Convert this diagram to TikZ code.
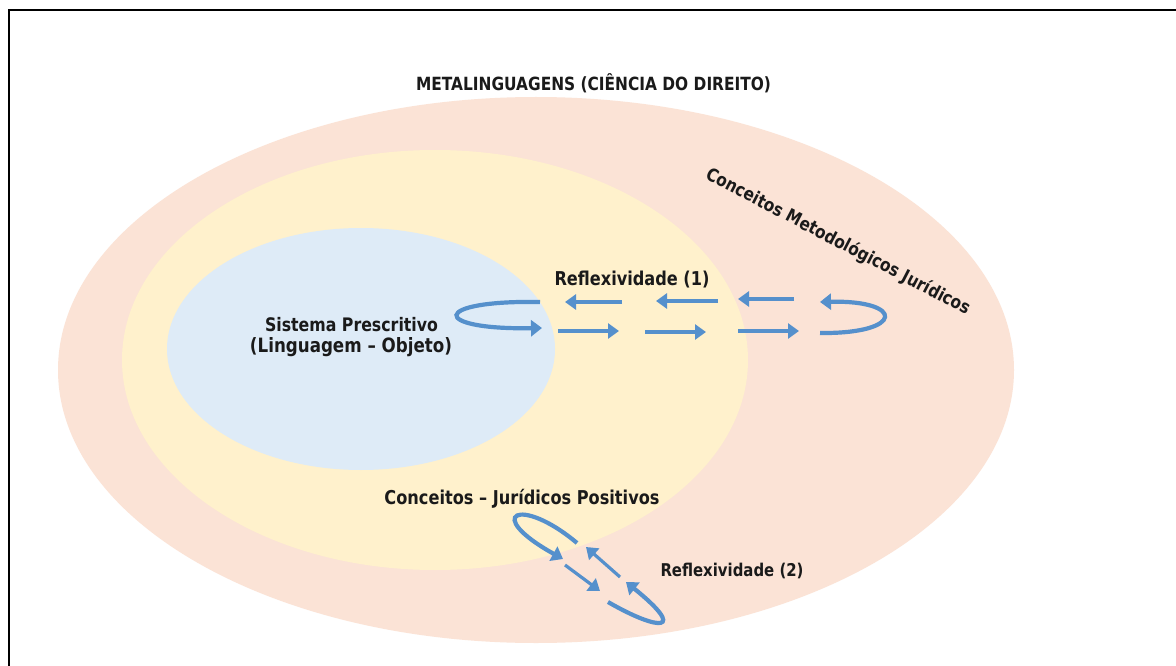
\documentclass[tikz,border=0pt]{standalone}
\usepackage{fontspec}
\setmainfont{DejaVu Sans}
\usetikzlibrary{arrows.meta}
\definecolor{outerc}{HTML}{FBE3D6}
\definecolor{midc}{HTML}{FFF1CC}
\definecolor{innerc}{HTML}{DEEBF7}
\definecolor{arrc}{HTML}{5590CC}
\definecolor{txtc}{HTML}{1A1A1A}
\newcommand{\fitw}[2]{\scalebox{1}[1.18]{\resizebox{#1pt}{!}{#2}}}
\begin{document}
\begin{tikzpicture}[x=1pt,y=-1pt,
  lbl/.style={text=txtc,font=\bfseries,inner sep=0pt},
  arr/.style={draw=arrc,line width=3.2pt,-{Triangle[width=15pt,length=11pt]}},
  looparr/.style={draw=arrc,line width=4.2pt,-{Triangle[width=16pt,length=11pt]}}]
\useasboundingbox (0,0) rectangle (1176,666);
\fill[white] (0,0) rectangle (1176,666);
\draw[line width=1.5pt] (1176,10) -- (9,10) -- (9,666);
% ellipses
\fill[outerc] (536,370) ellipse [x radius=478pt, y radius=273pt];
\fill[midc] (435,360) ellipse [x radius=313pt, y radius=210pt];
\fill[innerc] (361,349) ellipse [x radius=194pt, y radius=121pt];
% texts
\node[lbl] (title) at (593.5,83) {\fitw{355}{METALINGUAGENS (CIÊNCIA DO DIREITO)}};
\node[lbl] (sp1) at (351.5,325) {\fitw{173}{Sistema Prescritivo}};
\node[lbl] (sp2) at (351,347) {\fitw{202}{(Linguagem – Objeto)}};
\node[lbl] (rf1) at (632,280) {\fitw{155}{Reflexividade (1)}};
\node[lbl] (cjp) at (522,499) {\fitw{275}{Conceitos – Jurídicos Positivos}};
\node[lbl] (rf2) at (732,571) {\fitw{143}{Reflexividade (2)}};
\node[lbl,rotate=-27.5] (cmj) at (838,242) {\fitw{295}{Conceitos Metodológicos Jurídicos}};
% arrow end points
\coordinate (t1s) at (622,302); \coordinate (t1e) at (565,302);
\coordinate (t2s) at (718,301); \coordinate (t2e) at (656,301);
\coordinate (t3s) at (794,299); \coordinate (t3e) at (738,299);
\coordinate (b1s) at (558,331); \coordinate (b1e) at (619,331);
\coordinate (b2s) at (645,332); \coordinate (b2e) at (706,332);
\coordinate (b3s) at (738,331); \coordinate (b3e) at (799,331);
\coordinate (ls) at (540,302); \coordinate (le) at (542,328);
\coordinate (rs) at (820,333); \coordinate (re) at (820,302);
\coordinate (d1s) at (620,577); \coordinate (d1e) at (586,547);
\coordinate (d2s) at (565,565); \coordinate (d2e) at (600,591);
\coordinate (u1s) at (577,543); \coordinate (u1e) at (563,559);
\coordinate (u2s) at (608,602); \coordinate (u2e) at (626,582);
% straight arrows
\draw[arr] (t1s) -- (t1e);
\draw[arr] (t2s) -- (t2e);
\draw[arr] (t3s) -- (t3e);
\draw[arr] (b1s) -- (b1e);
\draw[arr] (b2s) -- (b2e);
\draw[arr] (b3s) -- (b3e);
\draw[arr] (d1s) -- (d1e);
\draw[arr] (d2s) -- (d2e);
% loops
\draw[looparr] (ls) .. controls (430,300) and (430,330) .. (le);
\draw[looparr] (rs) .. controls (905,334) and (905,300) .. (re);
\draw[looparr] (u1s) .. controls (520,495) and (482,514) .. (u1e);
\draw[looparr] (u2s) .. controls (660,632) and (688,632) .. (u2e);
\end{tikzpicture}
\end{document}
